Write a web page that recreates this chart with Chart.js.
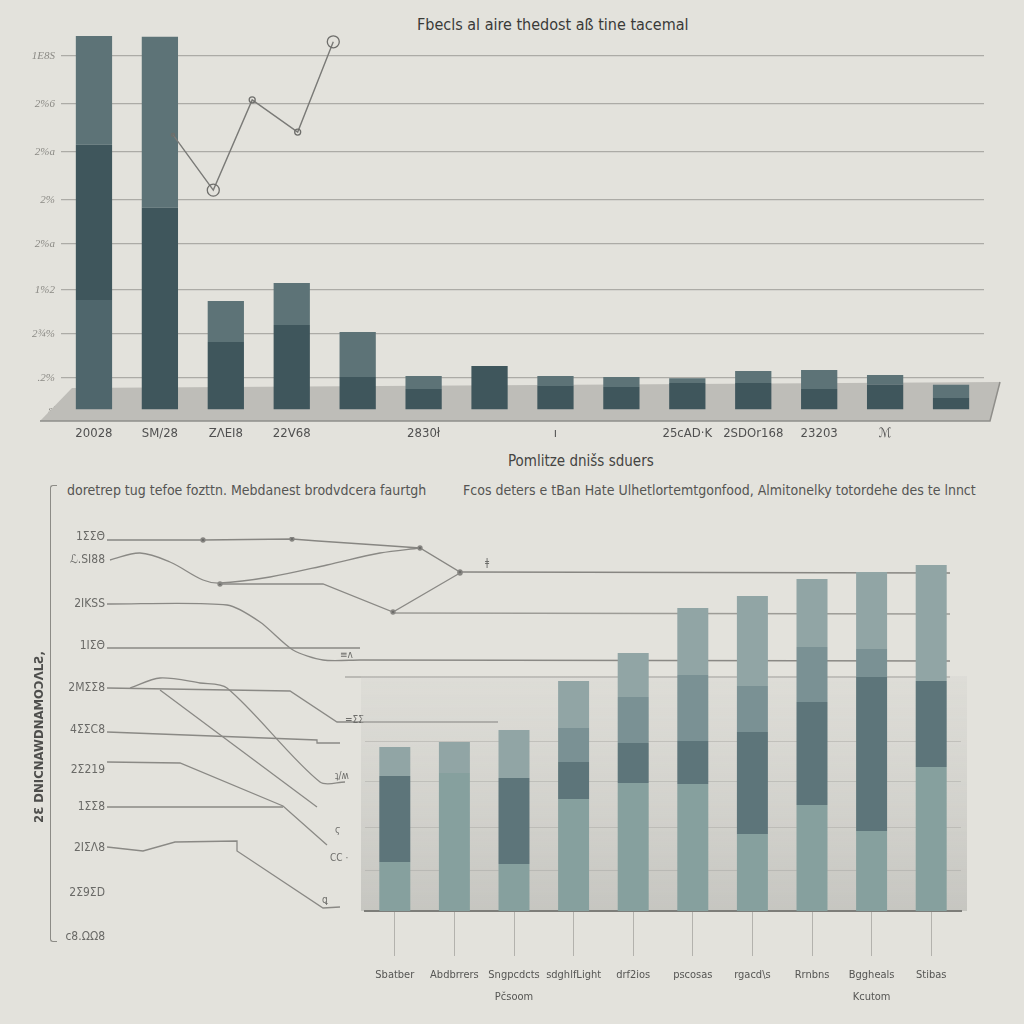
<!DOCTYPE html>
<html><head><meta charset="utf-8">
<script src="https://cdn.jsdelivr.net/npm/chart.js@4.4.0/dist/chart.umd.min.js"></script>
<style>
html,body{margin:0;padding:0;background:#e3e2dc;width:1024px;height:1024px;overflow:hidden;}
body{position:relative;font-family:'Liberation Sans Narrow','DejaVu Sans Condensed',sans-serif;}
canvas{position:absolute;left:0;}
#c1{top:0;}
#c2{top:440px;}
#c3{top:530px;}
.t{position:absolute;white-space:nowrap;line-height:18px;}
#bracket{position:absolute;left:50px;top:485px;width:6px;height:455px;border-left:1px solid #8c8b86;border-top:1px solid #8c8b86;border-bottom:1px solid #8c8b86;border-radius:3px 0 0 3px;}
</style></head><body>
<div class="t" style="left:417px;top:16px;font-size:16px;color:#3a3a38;">Fbecls al aire thedost aß tine tacemal</div>
<div class="t" style="left:508px;top:452px;font-size:15px;color:#444442;">Pomlitze dnišs sduers</div>
<div class="t" style="left:67px;top:481px;font-size:14px;color:#555553;">doretrep tug tefoe fozttn. Mebdanest brodvdcera faurtgh</div>
<div class="t" style="left:463px;top:481px;font-size:14px;color:#555553;">Fcos deters e tBan Hate Ulhetlortemtgonfood, Almitonelky totordehe des te lnnct</div>
<div id="bracket"></div>
<canvas id="c1" width="1024" height="450"></canvas>
<canvas id="c2" width="1024" height="584"></canvas>
<canvas id="c3" width="1024" height="494"></canvas>
<script>
// ---------- top chart data ----------
const topCategories = ['20028','SM/28','ZΛEI8','22V68','','2830ł','','ı','','25cAD·K','2SDOr168','23203','ℳ',''];
const topSegA = [31.1,0,0,0,0,0,0,0,0,0,0,0,0,0];
const topSegB = [43.8,57.1,19.2,24.0,9.3,5.9,12.4,6.8,6.5,7.6,7.6,5.9,7.1,3.4];
const topSegC = [30.7,48.3,11.6,11.9,12.7,3.7,0,2.8,2.8,1.4,3.4,5.4,2.8,3.7];
const topLineX = [1.70,2.31,2.90,3.59,4.13];
const topLineY = [77.7,62.1,87.6,78.5,104.0];
const topTickValues = [0,9.0,21.5,33.9,46.9,59.3,72.9,86.4,100];
const topTickLabels = ["s'",'.2%','2¾%','1%2','2%a','2%','2%a','2%6','1E8S'];

// ---------- bottom-left line chart data ----------
const lineTickValues = [0,11,22.25,32.5,41.75,51.75,62.25,72.75,83.25,94.25,100];
const lineTickLabels = ['c8.ΩΩ8','2Σ9ΣD','2ΙΣΛ8','1ΣΣ8','2Σ219','4ΣΣC8','2ΜΣΣ8','1ΙΣΘ','2ΙΚSS','ℒ.SΙ88','1ΣΣΘ'];
const l1x=[0,9.6,18.5,21.1,27,31.3,35.3,84.3], l1y=[99.25,99.25,99.5,99,98,97.25,91.25,91];
const l2x=[0.3,3.3,6.3,9.6,11.3,16.3,22,27.3,31.3], l2y=[94.25,96,93.75,89.25,88.5,90,93,96,97.25];
const l3x=[11.3,21.6,28.6,35.3], l3y=[88.25,88.25,81.25,91];
const l3bx=[28.6,84.3], l3by=[81,80.75];
const l4x=[0,12,15.3,18.6,21.6,25.3,84.3], l4y=[83.25,83,78.75,71.75,69.25,69.25,69];
const l5x=[0,25.3], l5y=[72.25,72.25];
const l5bx=[23.8,84.3], l5by=[65,65];
const l6x=[0,18.3,23,39.1], l6y=[62.25,61.5,53.75,53.75];
const l6bx=[2.3,5.3,9.3,12,21.3,23.8], l6by=[62.25,64.75,63.5,62.25,38.75,38.75];
const l6cx=[5.3,21], l6cy=[61.75,32.5];
const l7x=[0,21,21,23.3], l7y=[51.25,49.25,48.5,48.5];
const l8x=[0,7.3,17.6,22], l8y=[43.75,43.5,32.75,23];
const l9x=[0,17.6], l9y=[32.5,32.5];
const l10x=[0,3.6,6.8,13,13,21.6,23.3], l10y=[22.5,21.5,23.75,24,21.5,7.25,7.5];
const noteX=[37.8,23.3,23.8,22.8,22.8,22.3,21.5];
const noteY=[93.5,70.5,54.25,40.25,26.75,19.75,9.25];
const noteText=['ǂ','≡ᴧ','=ΣΣ','ʇ/ʍ','ϛ','ϹϹ ·','ꝗ'];

// ---------- bottom-right bar chart data ----------
const barCategories = [['Sbatber'],['Abdbrrers'],['Sngpcdcts','Pčsoom'],['sdghlfLight'],['drf2ios'],['pscosas'],['rgacd\\s'],['Rrnbns'],['Bggheals','Kcutom'],['Stibas']];
const barBase = [49,138,47,112,128,127,77,106,80,144];
const barDark = [86,0,86,37,40,43,102,103,154,86];
const barMid  = [0,0,0,34,46,66,46,55,28,0];
const barTop  = [29,31,48,47,44,67,90,68,77,116];
const barGridValues = [41,84,129,170];

const NARROW = "'Liberation Sans Narrow','DejaVu Sans Condensed',sans-serif";

// ---------- chart 1 ----------
const floorPlugin = {
  id:'floor',
  beforeDatasetsDraw(chart){
    const {ctx, chartArea:a, scales:{y}} = chart;
    const b = y.getPixelForValue(0);
    ctx.save();
    ctx.fillStyle = '#bebdb8';
    ctx.beginPath();
    ctx.moveTo(a.left-21, b+11);
    ctx.lineTo(a.left+11, b-22);
    ctx.lineTo(a.right+16, b-28);
    ctx.lineTo(a.right+6, b+11);
    ctx.closePath();
    ctx.fill();
    ctx.strokeStyle = '#8f8e8a';
    ctx.lineWidth = 1.5;
    ctx.beginPath();
    ctx.moveTo(a.left-21, b+11);
    ctx.lineTo(a.right+6, b+11);
    ctx.lineTo(a.right+16, b-28);
    ctx.stroke();
    ctx.restore();
  }
};
new Chart(document.getElementById('c1'), {
  type:'bar',
  data:{
    labels: topCategories,
    datasets:[
      {label:'a', data: topSegA, backgroundColor:'#4f666c', order:1},
      {label:'b', data: topSegB, backgroundColor:'#3f565c', order:1},
      {label:'c', data: topSegC, backgroundColor:'#5d7377', order:1},
      {type:'line', label:'l', xAxisID:'x2', order:0, clip:false,
       data: topLineX.map((x,i)=>({x, y: topLineY[i]})),
       borderColor:'#7a7a77', borderWidth:1.4, tension:0,
       pointRadius:[1.5,6,3,3,6], pointBackgroundColor:'rgba(0,0,0,0)',
       pointBorderColor:'#6e6e6b', pointBorderWidth:1.3}
    ]
  },
  options:{
    responsive:false, animation:false, devicePixelRatio:1,
    layout:{padding:{top:34, right:40, left:0, bottom:0}},
    plugins:{legend:{display:false}, tooltip:{enabled:false}},
    datasets:{bar:{barPercentage:0.55, categoryPercentage:1, grouped:false}},
    scales:{
      x:{stacked:true, grid:{display:false, drawTicks:false}, border:{display:false},
         ticks:{autoSkip:false, maxRotation:0, padding:16, color:'#505050', font:{family:NARROW, size:13}},
         afterFit(s){ s.height = 40; }},
      x2:{type:'linear', display:false, min:0, max:14, offset:false},
      y:{stacked:true, min:0, max:106.2,
         afterBuildTicks(s){ s.ticks = topTickValues.map(v=>({value:v})); },
         ticks:{callback:(v,i)=>topTickLabels[i], padding:6, color:'#8b8a85',
                font:{family:"'Liberation Serif',serif", size:11, style:'italic'}},
         grid:{drawTicks:false, lineWidth:1.3,
               color:c=> (c.tick && c.tick.value===0) ? 'rgba(0,0,0,0)' : '#acaba6'},
         border:{display:false},
         afterFit(s){ s.width = 61; }}
    }
  },
  plugins:[floorPlugin]
});

// ---------- chart 2 ----------
function mk(xs, ys, extra){
  return Object.assign({
    data: xs.map((x,i)=>({x, y: ys[i]})),
    borderColor:'#8a8985', borderWidth:1.3, pointRadius:0, tension:0, fill:false
  }, extra||{});
}
const notePlugin = {
  id:'notes',
  afterDatasetsDraw(chart){
    const {ctx, scales:{x,y}} = chart;
    ctx.save();
    ctx.fillStyle = '#6d6d6a';
    ctx.font = "10px " + NARROW;
    ctx.textAlign = 'left'; ctx.textBaseline = 'middle';
    noteText.forEach((t,i)=>{ ctx.fillText(t, x.getPixelForValue(noteX[i]), y.getPixelForValue(noteY[i])); });
    ctx.restore();
  }
};
new Chart(document.getElementById('c2'), {
  type:'line',
  data:{datasets:[
    mk(l1x,l1y,{pointRadius:[0,2,2,0,0,2,2,0], pointBackgroundColor:'#6d6d6a', borderColor:'#878682'}),
    mk(l2x,l2y,{tension:0.35}),
    mk(l3x,l3y,{pointRadius:[2,0,2,2], pointBackgroundColor:'#6d6d6a'}),
    mk(l3bx,l3by,{borderColor:'#9d9c97', pointRadius:[0,0]}),
    mk(l4x,l4y,{tension:0.25}),
    mk(l5x,l5y),
    mk(l5bx,l5by,{borderColor:'#aeada8'}),
    mk(l6x,l6y),
    mk(l6bx,l6by,{tension:0.3}),
    mk(l6cx,l6cy),
    mk(l7x,l7y),
    mk(l8x,l8y),
    mk(l9x,l9y),
    mk(l10x,l10y)
  ]},
  options:{
    responsive:false, animation:false, devicePixelRatio:1,
    layout:{padding:{top:97, bottom:87, right:17, left:0}},
    plugins:{legend:{display:false}, tooltip:{enabled:false}},
    scales:{
      x:{type:'linear', display:false, min:0, max:90},
      y:{min:0, max:100,
         afterBuildTicks(s){ s.ticks = lineTickValues.map(v=>({value:v})); },
         ticks:{callback:(v,i)=>lineTickLabels[i], padding:2, color:'#6a6a67', font:{family:NARROW, size:12}},
         grid:{display:false, drawTicks:false}, border:{display:false},
         title:{display:true, text:'2Ɛ DNICNAWDNAMOƆɅLƧ,', color:'#4e4e4c',
                font:{family:NARROW, size:13, weight:'bold'}, padding:{top:32, bottom:0}},
         afterFit(s){ s.width = 107; }}
    }
  },
  plugins:[notePlugin]
});

// ---------- chart 3 ----------
const panelPlugin = {
  id:'panel',
  beforeDraw(chart){
    const {ctx, chartArea:a, scales:{y}} = chart;
    const top = y.getPixelForValue(235);
    const g = ctx.createLinearGradient(0, top, 0, a.bottom);
    g.addColorStop(0, 'rgba(205,205,200,0.25)');
    g.addColorStop(1, 'rgba(188,188,183,0.75)');
    ctx.save();
    ctx.fillStyle = g;
    ctx.fillRect(a.left-4, top, a.right - a.left + 10, a.bottom - top);
    ctx.restore();
  }
};
new Chart(document.getElementById('c3'), {
  type:'bar',
  data:{
    labels: barCategories,
    datasets:[
      {label:'base', data: barBase, backgroundColor:'#86a09e'},
      {label:'dark', data: barDark, backgroundColor:'#5d757a'},
      {label:'mid',  data: barMid,  backgroundColor:'#7a9194'},
      {label:'top',  data: barTop,  backgroundColor:'#91a5a5'}
    ]
  },
  options:{
    responsive:false, animation:false, devicePixelRatio:1,
    layout:{padding:{top:21, left:365, right:63, bottom:0}},
    plugins:{legend:{display:false}, tooltip:{enabled:false}},
    datasets:{bar:{barPercentage:0.52, categoryPercentage:1}},
    scales:{
      x:{stacked:true,
         grid:{offset:false, drawOnChartArea:false, drawTicks:true, tickLength:45, color:'#b3b2ad', lineWidth:1},
         border:{display:true, color:'#7d7d79', width:2},
         ticks:{autoSkip:false, maxRotation:0, padding:8, color:'#555553',
                font:{family:NARROW, size:11, lineHeight:2}},
         afterFit(s){ s.height = 113; }},
      y:{stacked:true, min:0, max:360,
         afterBuildTicks(s){ s.ticks = barGridValues.map(v=>({value:v})); },
         ticks:{display:false},
         grid:{drawTicks:false, color:'rgba(165,165,160,0.45)', lineWidth:1},
         border:{display:false},
         afterFit(s){ s.width = 0; }}
    }
  },
  plugins:[panelPlugin]
});
</script>
</body></html>
